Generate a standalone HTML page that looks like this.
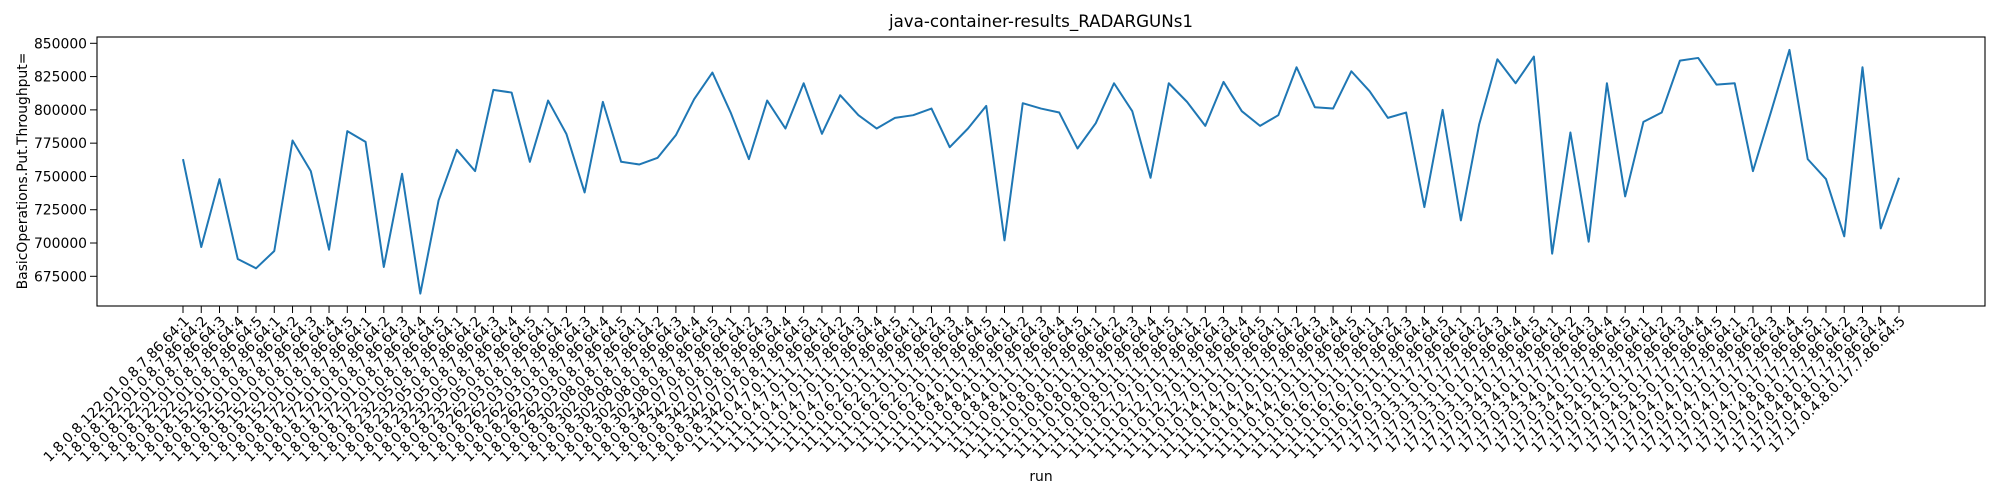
<!DOCTYPE html>
<html><head><meta charset="utf-8"><style>
html,body{margin:0;padding:0;background:#fff;}
svg{display:block;font-family:"DejaVu Sans","Liberation Sans",sans-serif;}
</style></head><body>
<svg id="chart" width="2000" height="500" xmlns="http://www.w3.org/2000/svg">
<text x="1041" y="27" font-size="16.7" text-anchor="middle">java-container-results_RADARGUNs1</text>
<text transform="translate(27,171) rotate(-90)" font-size="13.9" text-anchor="middle">BasicOperations.Put.Throughput=</text>
<text x="1041" y="481" font-size="13.9" text-anchor="middle">run</text>
<g id="yticks"></g>
<g id="xticks"></g>
<polyline id="series" fill="none" stroke="#1f77b4" stroke-width="2" stroke-linejoin="round"/>
<rect x="97" y="37" width="1888" height="269" fill="none" stroke="#000" stroke-width="1.1"/>
</svg>
<script>
const groups = ["1.8.0.8.122.01.0.8.7.86.64","1.8.0.8.152.01.0.8.7.86.64","1.8.0.8.172.01.0.8.7.86.64","1.8.0.8.232.05.0.8.7.86.64","1.8.0.8.262.03.0.8.7.86.64","1.8.0.8.302.08.0.8.7.86.64","1.8.0.8.342.07.0.8.7.86.64","11.11.0.4.7.0.11.7.86.64","11.11.0.6.2.0.11.7.86.64","11.11.0.8.4.0.11.7.86.64","11.11.0.10.8.0.11.7.86.64","11.11.0.12.7.0.11.7.86.64","11.11.0.14.7.0.11.7.86.64","11.11.0.16.7.0.11.7.86.64","17.17.0.3.1.0.17.7.86.64","17.17.0.3.4.0.17.7.86.64","17.17.0.4.5.0.17.7.86.64","17.17.0.4.7.0.17.7.86.64","17.17.0.4.8.0.17.7.86.64"];
const runs = [1,2,3,4,5];
const values = [763000,697000,748000,688000,681000,694000,777000,754000,695000,784000,776000,682000,752000,662000,732000,770000,754000,815000,813000,761000,807000,782000,738000,806000,761000,759000,764000,781000,808000,828000,798000,763000,807000,786000,820000,782000,811000,796000,786000,794000,796000,801000,772000,786000,803000,702000,805000,801000,798000,771000,790000,820000,799000,749000,820000,806000,788000,821000,799000,788000,796000,832000,802000,801000,829000,814000,794000,798000,727000,800000,717000,789000,838000,820000,840000,692000,783000,701000,820000,735000,791000,798000,837000,839000,819000,820000,754000,799000,845000,763000,748000,705000,832000,711000,749000];
const yTicks = [675000,700000,725000,750000,775000,800000,825000,850000];
const NS="http://www.w3.org/2000/svg";
const categories=[];
groups.forEach(g=>runs.forEach(r=>categories.push(g+":"+r)));
const x0=183,x1=1899;
function xs(i){return x0+i*(x1-x0)/(values.length-1);}
function ys(v){return 43.3+(850000-v)*(233/175000);}
const yg=document.getElementById('yticks');
yTicks.forEach(t=>{
  const y=ys(t);
  const l=document.createElementNS(NS,'line');
  
  
  l.setAttribute('x1',90);l.setAttribute('x2',97);l.setAttribute('y1',y);l.setAttribute('y2',y);l.setAttribute('stroke','#000');
  yg.appendChild(l);
  const tx=document.createElementNS(NS,'text');
  
  
  tx.setAttribute('x',87);tx.setAttribute('y',y+5);tx.setAttribute('font-size','13.9');tx.setAttribute('text-anchor','end');
  tx.textContent=t;
  yg.appendChild(tx);
});
const xg=document.getElementById('xticks');
for(let i=0;i<values.length;i++){
  const x=xs(i);
  const l=document.createElementNS(NS,'line');
  
  
  l.setAttribute('x1',x);l.setAttribute('x2',x);l.setAttribute('y1',306);l.setAttribute('y2',313);l.setAttribute('stroke','#000');
  xg.appendChild(l);
  const tx=document.createElementNS(NS,'text');
  
  
  tx.setAttribute('font-size','13.9');tx.setAttribute('text-anchor','end');
  tx.setAttribute('transform','translate('+(x+7)+',322) rotate(-45)');
  tx.textContent=categories[i]||'';
  xg.appendChild(tx);
}
document.getElementById('series').setAttribute('points',values.map((v,i)=>xs(i)+','+ys(v)).join(' '));
</script>
</body></html>
